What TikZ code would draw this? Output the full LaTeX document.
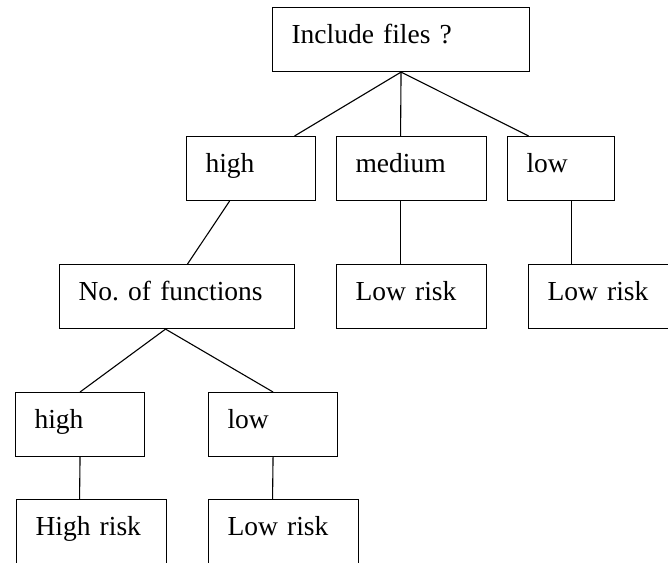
\documentclass[tikz,border=0pt]{standalone}
\usepackage{fontspec}
\setmainfont{Liberation Serif}
\begin{document}
\frenchspacing
\begin{tikzpicture}[x=1pt,y=-1pt,line width=1.1pt,
  box/.style={draw,anchor=north west,rectangle,inner xsep=19pt,inner ysep=0pt,
    text height=36pt,text depth=28pt,align=left,
    font=\fontsize{27.5}{33}\selectfont},
  conn/.style={draw}]
\useasboundingbox (0,0) rectangle (668,562);
\clip (0,0) rectangle (668,562);
\node[box,text width=219pt] (top) at (272,7) {Include files ?};
\node[box,text width=91pt] (high) at (186,136) {high};
\node[box,text width=112pt] (med) at (336,136) {medium};
\node[box,text width=69pt] (low) at (507,136) {low};
\node[box,text width=197pt] (nof) at (59,264) {No. of functions};
\node[box,text width=112pt] (lr1) at (336,264) {Low risk};
\node[box,text width=112pt] (lr2) at (528,264) {Low risk};
\node[box,text width=91pt] (h2) at (15,392) {high};
\node[box,text width=91pt] (l2) at (208,392) {low};
\node[box,text width=112pt] (hr) at (16,499) {High risk};
\node[box,text width=112pt] (lr3) at (208,499) {Low risk};
\draw[conn] (top.south) -- ([xshift=43.5pt]high.north);
\draw[conn] (top.south) -- ([xshift=-11pt]med.north);
\draw[conn] (top.south) -- ([xshift=-32.5pt]low.north);
\draw[conn] ([xshift=-11pt]med.south) -- ([xshift=-11pt]lr1.north);
\draw[conn] ([xshift=10.5pt]low.south) -- ([xshift=-32pt]lr2.north);
\draw[conn] ([xshift=-21.5pt]high.south) -- ([xshift=10.5pt]nof.north);
\draw[conn] ([xshift=-11.5pt]nof.south) -- (h2.north);
\draw[conn] ([xshift=-11.5pt]nof.south) -- (l2.north);
\draw[conn] (h2.south) -- ([xshift=-12pt]hr.north);
\draw[conn] (l2.south) -- ([xshift=-11pt]lr3.north);
\end{tikzpicture}
\end{document}
